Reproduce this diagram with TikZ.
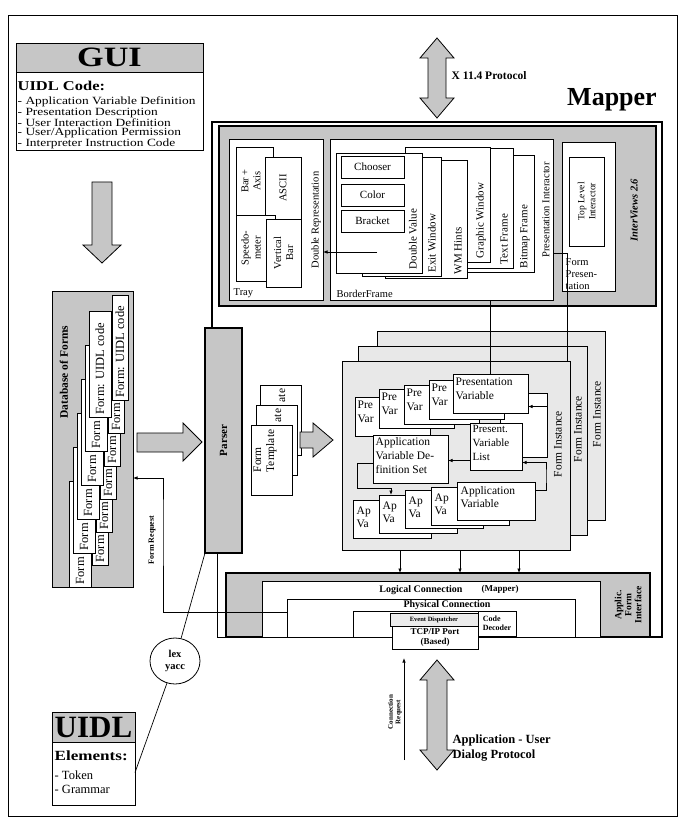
\documentclass[tikz,border=0pt]{standalone}
\usepackage{fontspec}
\setmainfont{Liberation Serif}
\newfontfamily\widefont[FakeStretch=1.22]{Liberation Serif}
\usetikzlibrary{arrows.meta, positioning, calc, shapes.geometric}

\newcommand{\fsz}[1]{\fontsize{#1}{#1}\selectfont}
% box as a named node: name, x1, y1, x2, y2 (pixels, y down)
\newcommand{\panel}[6][]{%
  \node[#1, anchor=north west, inner sep=0pt, outer sep=0pt,
        minimum width={(#5-#3)*1pt}, minimum height={(#6-#4)*1pt}] (#2) at (#3,#4) {};}

\tikzset{
  stipple/.style={fill=gray!45},
  lightstipple/.style={fill=gray!18},
  outline/.style={draw, line width=0.8pt},
  card/.style={draw, fill=white, line width=0.8pt},
  heavy/.style={draw, line width=1.8pt},
  lbl/.style={inner sep=0.5pt, align=left, font=\fontsize{11}{13.5}\selectfont},
  vlbl/.style={lbl, rotate=90},
  link/.style={line width=0.7pt},
  blockarrow/.style={draw, fill=gray!45, line width=0.8pt},
  >={Latex[length=4.5pt,width=3.5pt]}
}

\begin{document}
\begin{tikzpicture}[x=1pt, y=-1pt]
  \useasboundingbox (0,0) rectangle (681,821);
  \draw[link] (8,15) rectangle (677,816);

  % ---- GUI ----
  \panel[outline]{gui}{16}{43}{203}{150}
  \panel[outline, stipple]{guihead}{16}{43}{203}{72}
  \node[font=\widefont\fsz{28}\bfseries] (guititle) at (guihead.center) {GUI};
  \node[lbl, font=\widefont\fsz{13.5}\bfseries, anchor=west] (uidlcode) at (17,86) {UIDL Code:};
  \node[lbl, font=\widefont\fontsize{11}{9.6}\selectfont, anchor=north west] (guiitems) at (17,96)
    {- Application Variable Definition\\- Presentation Description\\- User Interaction Definition\\
     - User/Application Permission\\- Interpreter Instruction Code};

  % GUI down arrow
  \draw[blockarrow] (92,182) -- (112,182) -- (112,245) -- (121,245) -- (102,263) -- (83,245) -- (92,245) -- cycle;

  % ---- X protocol ----
  \draw[blockarrow] (437,38) -- (454,58) -- (446,58) -- (446,98) -- (454,98) -- (437,118)
    -- (420,98) -- (428,98) -- (428,58) -- (420,58) -- cycle;
  \node[lbl, font=\fsz{11.5}\bfseries, anchor=west] (xproto) at (451,76) {X 11.4 Protocol};
  \node[font=\fsz{26}\bfseries] (mapper) at (612,100) {Mapper};

  % ---- InterViews ----
  \panel[heavy, stipple]{iv}{219}{126}{656}{306}
  \node[vlbl, font=\fsz{10.5}\bfseries\itshape] (ivlbl) at (634,210) {InterViews 2.6};

  % Tray
  \panel[card]{tray}{229}{139}{323}{300}
  \node[lbl, font=\fsz{10.5}, anchor=south west] (traylbl) at (233,298) {Tray};
  \panel[card]{baraxis}{236}{147}{273}{215}
  \node[vlbl, align=center, font=\fontsize{10.5}{12}\selectfont] (baraxislbl) at (251,181) {Bar +\\Axis};
  \panel[card]{ascii}{265}{157}{301}{219}
  \node[vlbl, font=\fsz{10.5}] (asciilbl) at (ascii.center) {ASCII};
  \panel[card]{speedo}{236}{215}{275}{281}
  \node[vlbl, align=center, font=\fontsize{10.5}{12}\selectfont] (speedolbl) at (251,248) {Speedo-\\meter};
  \panel[card]{vbar}{266}{219}{301}{287}
  \node[vlbl, align=center, font=\fontsize{10.5}{12}\selectfont] (vbarlbl) at (vbar.center) {Vertical\\Bar};
  \node[vlbl, font=\fsz{10.5}] (dblrep) at (316,220) {Double Representation};

  % Presentation interactor
  \panel[card]{presint}{330}{139}{553}{300}
  \node[lbl, font=\fsz{10.5}, anchor=south west] (borderlbl) at (336,298) {BorderFrame};
  \node[vlbl, font=\fsz{10.5}] (presintlbl) at (546,210) {Presentation Interactor};
  \foreach \nm/\xa/\ya/\xb/\yb/\t in {bitmap/440/155/534/272/Bitmap Frame,
      textfr/425/148/513/268/Text Frame, graphic/405/147/490/262/Graphic Window,
      wmhints/385/160/467/278/WM Hints, exitwin/362/157/441/276/Exit Window,
      dblval/336/153/422/273/Double Value}{
    \panel[card]{\nm}{\xa}{\ya}{\xb}{\yb}
    \node[vlbl, anchor=west] (\nm-l) at (\xb-9,\yb-3) {\t};
  }
  \foreach \nm/\ya/\t in {chooser/156/Chooser, colour/184/Color, bracket/210/Bracket}{
    \panel[card]{\nm}{341}{\ya}{404}{\ya+22}
    \node[lbl] (\nm-l) at (\nm.center) {\t};
  }
  \coordinate (dvout) at (377,252);
  \draw[link,->] (dvout) -- (dvout -| tray.east);

  % Form presentation
  \panel[card]{formpres}{562}{142}{615}{291}
  \panel[card]{toplevel}{569}{157}{604}{246}
  \node[vlbl, font=\fontsize{9.5}{11}\selectfont, align=center] (toplevell) at (toplevel.center) {Top Level\\Interactor};
  \node[lbl, font=\fontsize{10.5}{12}\selectfont, anchor=south west] (formpresl) at (565,290) {Form\\Presen-\\tation};

  % ---- Applic. Form Interface ----
  \panel[heavy, stipple]{afi}{226}{573}{650}{637}
  \node[vlbl, font=\fontsize{9.5}{10}\selectfont\bfseries, align=center] (afi-l) at (628,605) {Applic.\\Form\\Interface};
  \panel[card]{logic}{262}{581}{600}{637}
  \node[lbl, font=\fsz{10}\bfseries] (logic-l) at (421,590) {Logical Connection};
  \node[lbl, font=\fsz{9}\bfseries] (mapper-s) at (500,589) {(Mapper)};
  \panel[card]{phys}{287}{599}{575}{637}
  \node[lbl, font=\fsz{10}\bfseries] (phys-l) at (447,605) {Physical Connection};
  \panel[card]{evtbox}{353}{611}{516}{637}
  \panel[card]{codedec}{478}{611}{516}{636}
  \node[lbl, font=\fontsize{8}{8.5}\selectfont\bfseries] (codedec-l) at (codedec.center) {Code\\Decoder};
  \panel[card, fill=gray!15]{evdisp}{390}{613}{478}{626}
  \node[lbl, font=\fsz{6.5}\bfseries] (evdisp-l) at (evdisp.center) {Event Dispatcher};
  \panel[card]{tcpip}{392}{626}{478}{649}
  \node[lbl, font=\fontsize{9}{9.5}\selectfont\bfseries, align=center] (tcpip-l) at (tcpip.center) {TCP/IP Port\\(Based)};

  % ---- Parser and Mapper frame ----
  \panel[heavy, stipple]{parser}{205}{328}{242}{553}
  \node[vlbl, font=\fsz{11}\bfseries] (parserlbl) at (parser.center) {Parser};
  \draw[heavy] ([xshift=7pt]parser.north west) -- (212,122) -- (662,122) |- (afi.south east);
  \draw[link] ([xshift=12pt]parser.south west) |- (afi.south west);

  % ---- Form instances ----
  \foreach \nm/\xa/\ya/\xb/\yb/\lx in {fi3/377/331/605/520/597, fi2/358/346/587/535/578, fi1/342/361/570/550/558}{
    \panel[outline, lightstipple]{\nm}{\xa}{\ya}{\xb}{\yb}
    \node[vlbl, font=\fsz{11.5}] (\nm-l) at (\lx,\ya+83) {Form Instance};
  }
  \panel[card]{pvlback}{500}{393}{547}{457}
  \foreach \i/\xa/\ya in {1/355/397, 2/379/389, 3/404/385, 4/429/380}{
    \panel[card]{pv\i}{\xa}{\ya}{\xa+75}{\ya+39}
    \node[lbl, font=\fontsize{11.5}{14}\selectfont, anchor=north west] (pv\i-l) at (\xa+2,\ya+3) {Pre\\Var};
  }
  \panel[card]{pv5}{453}{374}{528}{413}
  \node[lbl, font=\fontsize{11.5}{14}\selectfont, anchor=north west] (pv5-l) at (455,377) {Presentation\\Variable};
  \panel[card]{pvlist}{470}{423}{522}{470}
  \node[lbl, font=\fontsize{11}{14}\selectfont, anchor=north west] (pvlist-l) at (472,425) {Present.\\Variable\\List};
  \panel[card]{ads}{373}{435}{448}{483}
  \node[lbl, font=\fontsize{11.5}{14}\selectfont, anchor=north west] (ads-l) at (375,437) {Application\\Variable De-\\finition Set};
  \foreach \i/\xa/\ya in {1/353/500, 2/379/495, 3/405/490, 4/431/487}{
    \panel[card]{av\i}{\xa}{\ya}{\xa+78}{\ya+38}
    \node[lbl, font=\fontsize{11.5}{13}\selectfont, anchor=north west] (av\i-l) at (\xa+3,\ya+6) {Ap\\Va};
  }
  \panel[card]{av5}{457}{482}{535}{520}
  \node[lbl, font=\fontsize{11.5}{13}\selectfont, anchor=north west] (av5-l) at (460,486) {Application\\Variable};

  % connectors inside the form instance
  \coordinate (pvin) at ([yshift=-13pt]pv5.east);
  \draw[link,->] (pvin -| pvlback.east) -- (pvin);
  \draw[link,->] ([yshift=11pt]av5.east) -| (546,476) |- ([yshift=-16pt]pvlist.east);
  \coordinate (lstout) at ([yshift=-14pt]pvlist.west);
  \draw[link,->] (lstout) -- (lstout -| ads.east);
  \draw[link,->] ([yshift=-4pt]ads.west) -| (357,488) -| ([xshift=12pt]av2.north west);

  % presentation links down from InterViews
  \draw[link] (pv5.north |- presint.south) -- (pv5.north);
  \coordinate (fpout) at ([yshift=-33.5pt]presint.east);
  \draw[link] (fpout) -| ([xshift=-3pt]fi1.north east);

  % down to the interface
  \foreach \dx in {58,118,177}{
    \coordinate (fo\dx) at ([xshift=\dx pt]fi1.south west);
    \draw[link,->] (fo\dx) -- (fo\dx |- afi.north);
  }

  % ---- Form templates ----
  \foreach \nm/\xa/\ya in {ft3/260/385, ft2/256/405}{
    \panel[card]{\nm}{\xa}{\ya}{\xa+41}{\ya+70}
    \node[vlbl, font=\fsz{11.5}, anchor=east] (\nm-l) at (\xa+22,\ya+3) {ate};
  }
  \panel[card]{ft1}{251}{425}{292}{495}
  \node[vlbl, font=\fontsize{11.5}{13}\selectfont, anchor=north east] (ft1-l) at (253,429) {Form\\Template};
  \draw[blockarrow] (300,432) -- (313,432) -- (313,423) -- (333,440) -- (313,457) -- (313,448) -- (300,448) -- cycle;

  % ---- Database of forms ----
  \panel[outline, stipple]{db}{52}{291}{133}{587}
  \node[vlbl, font=\fsz{11.5}\bfseries] (db-l) at (64,372) {Database of Forms};
  \foreach \i in {5,4,...,1}{
    \pgfmathsetmacro{\ax}{89-4*\i}
    \pgfmathsetmacro{\ay}{311+34*\i}
    \pgfmathsetmacro{\bx}{112-4*\i}
    \pgfmathsetmacro{\by}{295+33*\i}
    \panel[card]{forma\i}{\ax}{\ay}{\ax+22}{\ay+106}
    \node[vlbl, font=\fsz{12.5}, anchor=west] (forma\i-l) at (\ax+11,\ay+104) {Form};
    \panel[card]{formb\i}{\bx}{\by}{\bx+16}{\by+105}
    \node[vlbl, font=\fsz{12.5}, anchor=west] (formb\i-l) at (\bx+8,\by+103) {Form};
  }
  \panel[card]{forma0}{89}{311}{111}{417}
  \node[vlbl, font=\fsz{12.5}, anchor=west] (forma0-l) at (100,415) {Form: UIDL code};
  \panel[card]{formb0}{112}{295}{128}{400}
  \node[vlbl, font=\fsz{12.5}, anchor=west] (formb0-l) at (120,398) {Form: UIDL code};
  \draw[blockarrow] (137,433) -- (183,433) -- (183,423) -- (202,442) -- (183,461) -- (183,452) -- (137,452) -- cycle;

  % form request
  \coordinate (frq) at ([yshift=6pt]phys.west);
  \draw[link,->] (frq) -| (163,520) |- ([yshift=-39pt]db.east);
  \node[vlbl, font=\fsz{8}\bfseries] (frq-l) at (152,540) {Form Request};

  % ---- UIDL and lex/yacc ----
  \panel[outline]{uidl}{52}{712}{135}{805}
  \panel[outline, stipple]{uidlhead}{52}{712}{135}{742}
  \node[font=\fsz{31}\bfseries] (uidltitle) at (uidlhead.center) {UIDL};
  \node[lbl, font=\widefont\fsz{14}\bfseries, anchor=west] (elements) at (54,756) {Elements:};
  \node[lbl, font=\fontsize{12.5}{14}\selectfont, anchor=north west] (tokens) at (54,770) {- Token\\- Grammar};
  \node[ellipse, draw, line width=0.8pt, minimum width=50, minimum height=46, align=center,
        font=\fontsize{10.5}{12}\selectfont\bfseries] (lex) at (175,661) {lex\\yacc};
  \draw[link] (lex.75) -- (parser.south west);
  \draw[link] (lex.-110) -- ([yshift=-14pt]uidl.east);

  % ---- Dialog protocol ----
  \coordinate (creqbot) at (404,760);
  \coordinate (creqtop) at (404,658);
  \draw[link,->] (creqbot) -- (creqtop);
  \node[vlbl, font=\fontsize{7}{7.5}\selectfont\bfseries, align=center] (creq-l) at (395,712) {Connection\\Request};
  \draw[blockarrow] (437,660) -- (454,680) -- (447,680) -- (447,750) -- (454,750) -- (437,770)
    -- (420,750) -- (427,750) -- (427,680) -- (420,680) -- cycle;
  \node[lbl, font=\fontsize{12.5}{15}\selectfont\bfseries, anchor=west] (dialog) at (452,748) {Application - User\\Dialog Protocol};
\end{tikzpicture}
\end{document}
